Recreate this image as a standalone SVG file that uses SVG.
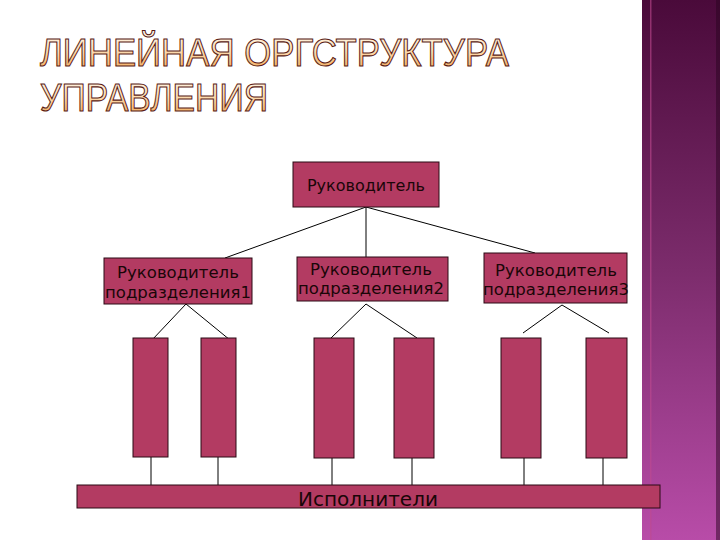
<svg xmlns="http://www.w3.org/2000/svg" width="720" height="540" viewBox="0 0 720 540">
<defs>
<linearGradient id="side" x1="0" y1="0" x2="0" y2="1">
<stop offset="0" stop-color="#4a0a3a"/>
<stop offset="0.5" stop-color="#7c2c6c"/>
<stop offset="1" stop-color="#b84ca8"/>
</linearGradient>
<linearGradient id="titleFill" x1="0" y1="0" x2="0" y2="1">
<stop offset="0" stop-color="#fffaf0"/>
<stop offset="0.45" stop-color="#fde0b8"/>
<stop offset="1" stop-color="#f0a04a"/>
</linearGradient>
<style>
.box{fill:#b33b62;stroke:#2a0a14;stroke-width:1}
.lbl{font-family:"DejaVu Sans",Verdana,sans-serif;font-size:16px;fill:#1a0608;text-anchor:middle}
.sub{font-size:16.5px}
.big{font-size:20px}
.title{font-family:"Liberation Sans",Arial,sans-serif;font-size:39px;fill:url(#titleFill);stroke:#5a1a14;stroke-width:1.1}
.ln{stroke:#000;stroke-width:1;fill:none}
</style>
</defs>
<rect width="720" height="540" fill="#ffffff"/>
<g id="sidebar">
<rect x="642" y="0" width="78" height="540" fill="url(#side)"/>
<rect x="650" y="0" width="1.5" height="540" fill="#c04a90" opacity="0.6"/>
<rect x="716" y="0" width="4" height="540" fill="#2a0420" opacity="0.5"/>
</g>
<g id="title">
<text class="title" x="40" y="66" textLength="469" lengthAdjust="spacingAndGlyphs">ЛИНЕЙНАЯ ОРГСТРУКТУРА</text>
<text class="title" x="40" y="111" textLength="228" lengthAdjust="spacingAndGlyphs">УПРАВЛЕНИЯ</text>
</g>
<g id="connectors">
<path class="ln" d="M366 207 L225 258 M366 207 L366 257 M366 207 L535 253"/>
<path class="ln" d="M186 304 L152 340 M186 304 L230 340"/>
<path class="ln" d="M366 304 L331 338 M366 304 L417 338"/>
<path class="ln" d="M562 305 L523 333 M562 305 L609 333"/>
<path class="ln" d="M151 457 V485 M218 457 V485 M332 458 V485 M412 458 V485 M524 458 V485 M603 458 V485"/>
</g>
<g id="head">
<rect class="box" x="293" y="162" width="146" height="45"/>
<text class="lbl" x="366" y="191">Руководитель</text>
</g>
<g id="sub1">
<rect class="box" x="104" y="258" width="148" height="46"/>
<text class="lbl sub" x="178" y="278">Руководитель</text>
<text class="lbl sub" x="178" y="298">подразделения1</text>
</g>
<g id="sub2">
<rect class="box" x="297" y="257" width="151" height="44"/>
<text class="lbl sub" x="371" y="275">Руководитель</text>
<text class="lbl sub" x="371" y="294">подразделения2</text>
</g>
<g id="sub3">
<rect class="box" x="484" y="253" width="143" height="50"/>
<text class="lbl sub" x="556" y="276">Руководитель</text>
<text class="lbl sub" x="556" y="295">подразделения3</text>
</g>
<g id="w1"><rect class="box" x="133" y="338" width="35" height="119"/></g>
<g id="w2"><rect class="box" x="201" y="338" width="35" height="119"/></g>
<g id="w3"><rect class="box" x="314" y="338" width="40" height="120"/></g>
<g id="w4"><rect class="box" x="394" y="338" width="40" height="120"/></g>
<g id="w5"><rect class="box" x="501" y="338" width="40" height="120"/></g>
<g id="w6"><rect class="box" x="586" y="338" width="41" height="120"/></g>
<g id="executors">
<rect class="box" x="77" y="485" width="583" height="23"/>
<text class="lbl big" x="368" y="506">Исполнители</text>
</g>
</svg>
